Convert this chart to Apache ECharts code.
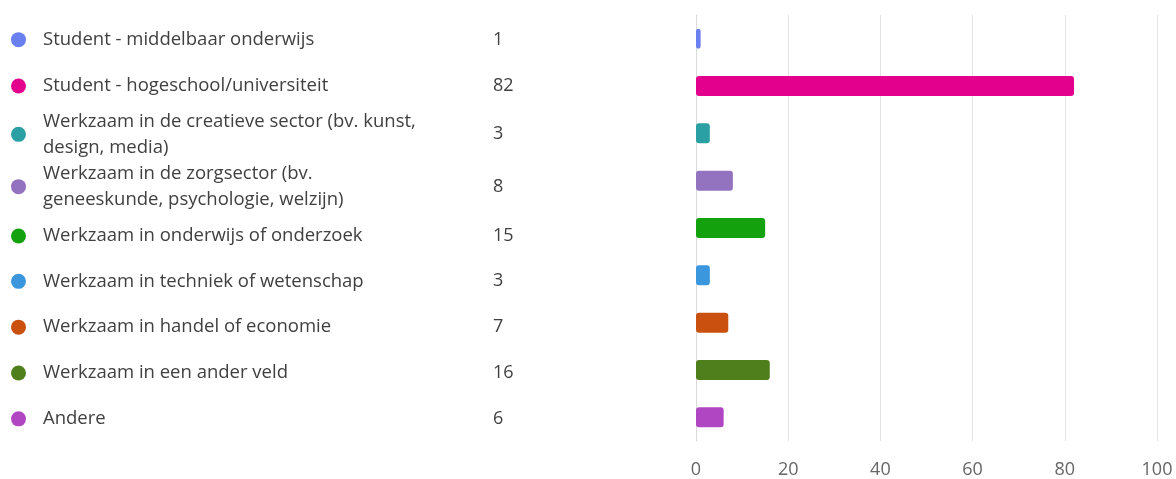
<!DOCTYPE html>
<html>
<head>
<meta charset="utf-8">
<script src="https://cdn.jsdelivr.net/npm/echarts@6/dist/echarts.min.js"></script>
<style>
html,body{margin:0;padding:0;background:#fff;}
#chart{width:1176px;height:479px;}
</style>
</head>
<body>
<div id="chart"></div>
<script>
const categories = [
  "Student - middelbaar onderwijs",
  "Student - hogeschool/universiteit",
  "Werkzaam in de creatieve sector (bv. kunst,\ndesign, media)",
  "Werkzaam in de zorgsector (bv.\ngeneeskunde, psychologie, welzijn)",
  "Werkzaam in onderwijs of onderzoek",
  "Werkzaam in techniek of wetenschap",
  "Werkzaam in handel of economie",
  "Werkzaam in een ander veld",
  "Andere"
];
const values = [1, 82, 3, 8, 15, 3, 7, 16, 6];
const colors = ["#6a80f1", "#e3008c", "#2aa0a4", "#9373c0", "#13a10e", "#3a96dd", "#ca5010", "#4f7f1c", "#b146c2"];
const xTicks = [0, 20, 40, 60, 80, 100];

const FONT = "'Open Sans', 'Noto Sans', sans-serif";
const W = 1176, H = 479;
const gridLeft = 696, gridRight = 19, gridTop = 15, gridBottom = 35.5;

// Legend rows behave like an HTML list: one-line rows are shorter than two-line rows.
const ROW1 = 46, ROW2 = 52.5, LIST_TOP = 17;
const band = (H - gridTop - gridBottom) / categories.length;
const shifts = [];
let acc = LIST_TOP;
categories.forEach((c, i) => {
  const h = c.indexOf('\n') >= 0 ? ROW2 : ROW1;
  const listCenter = acc + h / 2;
  acc += h;
  const bandCenter = gridTop + band * (i + 0.5);
  shifts.push(listCenter - bandCenter);
});

const rich = {};
colors.forEach((c, i) => {
  rich['c' + i] = { width: 15, height: 15, borderRadius: 7.5, backgroundColor: c };
  const s = Math.max(1, Math.round(Math.abs(shifts[i]) * 2));
  rich['s' + i] = { height: s, lineHeight: s, width: 1 };
});
function shifted(content, i) {
  const d = shifts[i];
  if (Math.abs(d) < 0.5) return content;
  return d > 0 ? '{s' + i + '|}\n' + content : content + '\n{s' + i + '|}';
}

const chart = echarts.init(document.getElementById('chart'), null, { renderer: 'canvas' });
const baseY = {
  type: 'category',
  data: categories,
  inverse: true,
  axisLine: { show: false },
  axisTick: { show: false },
  splitLine: { show: false },
  position: 'left'
};
chart.setOption({
  animation: false,
  grid: { left: gridLeft, right: gridRight, top: gridTop, bottom: gridBottom, containLabel: false },
  xAxis: {
    type: 'value',
    min: xTicks[0],
    max: xTicks[xTicks.length - 1],
    interval: 20,
    axisLine: { show: false },
    axisTick: { show: false },
    splitLine: { show: true, lineStyle: { color: '#e3e3e3', width: 1 } },
    axisLabel: { color: '#666666', fontSize: 18, fontFamily: FONT, margin: 20 }
  },
  yAxis: [
    Object.assign({}, baseY, {
      axisLine: { show: true, lineStyle: { color: '#d9d9d9', width: 1 } },
      axisLabel: {
        align: 'left',
        margin: gridLeft - 43,
        color: '#404040',
        fontSize: 18.5,
        lineHeight: 26,
        fontFamily: FONT,
        formatter: (v, i) => shifted(v, i),
        rich: rich
      }
    }),
    Object.assign({}, baseY, {
      axisLabel: {
        align: 'left',
        margin: gridLeft - 11,
        formatter: (v, i) => shifted('{c' + i + '|}', i),
        rich: rich
      }
    }),
    Object.assign({}, baseY, {
      axisLabel: {
        align: 'left',
        margin: gridLeft - 493,
        color: '#404040',
        fontSize: 18,
        fontFamily: FONT,
        formatter: (v, i) => shifted(String(values[i]), i),
        rich: rich
      }
    })
  ],
  series: [{
    type: 'bar',
    yAxisIndex: 0,
    barWidth: 20,
    data: values.map((v, i) => ({ value: v, itemStyle: { color: colors[i], borderRadius: 3 } }))
  }]
});
</script>
</body>
</html>
